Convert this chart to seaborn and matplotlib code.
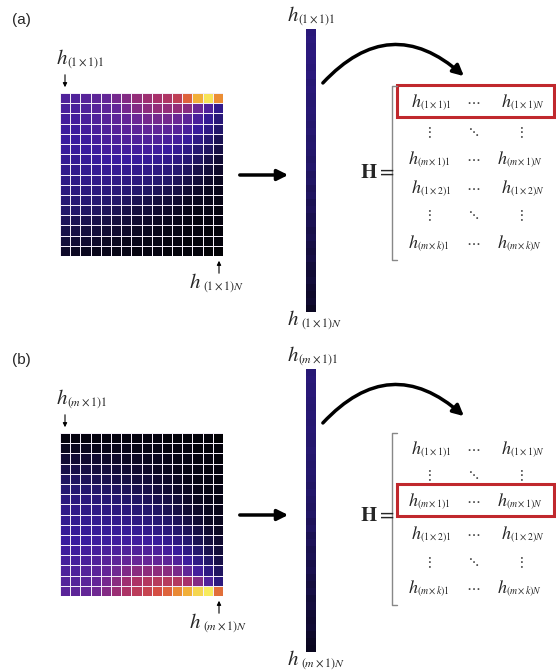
import numpy as np
import matplotlib.pyplot as plt
from matplotlib.colors import LinearSegmentedColormap
from matplotlib.patches import Rectangle
import seaborn as sns

# field shown in panel (a), 16 x 16 cells, values 0-100
field_a = [
    [42, 42, 44, 46, 48, 52, 55, 58, 60, 62, 64, 68, 78, 90, 98, 85],
    [40, 40, 42, 44, 46, 48, 52, 55, 57, 58, 58, 58, 56, 50, 42, 30],
    [38, 38, 40, 42, 44, 46, 48, 50, 52, 52, 52, 50, 46, 40, 32, 24],
    [36, 36, 38, 40, 42, 44, 45, 46, 47, 47, 46, 44, 40, 34, 28, 20],
    [35, 35, 36, 38, 40, 41, 42, 42, 42, 42, 40, 38, 34, 28, 22, 16],
    [34, 34, 35, 36, 38, 38, 38, 38, 38, 37, 35, 32, 28, 22, 18, 13],
    [32, 32, 33, 34, 35, 35, 35, 34, 33, 32, 30, 27, 23, 18, 14, 10],
    [30, 30, 31, 32, 32, 32, 31, 30, 29, 27, 25, 22, 18, 14, 11, 8],
    [28, 28, 29, 29, 29, 28, 27, 26, 24, 22, 20, 17, 14, 11, 8, 6],
    [26, 26, 26, 26, 25, 24, 23, 21, 19, 17, 15, 13, 10, 8, 6, 5],
    [23, 23, 23, 22, 21, 20, 18, 16, 14, 12, 11, 9, 7, 6, 5, 4],
    [20, 20, 19, 18, 17, 16, 14, 12, 11, 9, 8, 7, 5, 4, 4, 3],
    [17, 16, 15, 14, 13, 12, 11, 9, 8, 7, 6, 5, 4, 3, 3, 3],
    [14, 13, 12, 11, 10, 9, 8, 7, 6, 5, 4, 4, 3, 3, 2, 2],
    [11, 10, 9, 8, 7, 6, 5, 5, 4, 4, 3, 3, 2, 2, 2, 2],
    [8, 7, 6, 5, 5, 4, 4, 3, 3, 3, 2, 2, 2, 2, 1, 1],
]

# field shown in panel (b)
field_b = [
    [3, 3, 3, 3, 3, 3, 3, 3, 3, 3, 2, 2, 2, 2, 2, 1],
    [6, 6, 6, 5, 5, 5, 5, 4, 4, 4, 3, 3, 3, 2, 2, 2],
    [10, 10, 9, 9, 8, 8, 7, 7, 6, 6, 5, 4, 4, 3, 3, 2],
    [14, 14, 13, 12, 12, 11, 10, 9, 8, 7, 6, 5, 4, 4, 3, 3],
    [18, 18, 17, 16, 15, 14, 13, 12, 11, 9, 8, 7, 5, 4, 4, 3],
    [22, 22, 21, 20, 19, 18, 17, 15, 14, 12, 10, 8, 7, 5, 4, 4],
    [26, 26, 25, 24, 23, 22, 20, 19, 17, 15, 13, 11, 8, 6, 5, 4],
    [29, 29, 28, 28, 27, 26, 25, 23, 21, 19, 16, 13, 10, 8, 6, 5],
    [31, 31, 31, 31, 30, 30, 29, 27, 25, 23, 20, 17, 13, 10, 7, 6],
    [33, 33, 33, 33, 33, 33, 33, 32, 30, 28, 25, 21, 17, 13, 9, 7],
    [35, 35, 35, 36, 36, 37, 37, 37, 36, 34, 31, 27, 22, 16, 12, 9],
    [37, 37, 38, 39, 40, 41, 42, 42, 42, 41, 38, 34, 28, 21, 15, 11],
    [39, 39, 40, 42, 44, 46, 48, 49, 49, 48, 46, 42, 36, 28, 20, 14],
    [41, 41, 43, 45, 48, 51, 54, 56, 57, 57, 56, 53, 47, 38, 27, 18],
    [43, 43, 45, 48, 52, 56, 60, 63, 65, 66, 66, 65, 62, 55, 42, 26],
    [45, 46, 48, 51, 55, 59, 63, 67, 70, 74, 78, 84, 90, 96, 99, 80],
]

# flattened column vectors (stripes)
vector_a = [24, 25, 24, 26, 25, 24, 25, 23, 24, 23, 22, 23, 22, 21, 22, 20,
            21, 20, 19, 20, 18, 19, 17, 18, 16, 17, 15, 16, 14, 15, 13, 12,
            13, 11, 10, 11, 9, 8, 9, 7]
vector_b = [23, 24, 23, 24, 23, 22, 23, 22, 23, 22, 21, 22, 21, 20, 21, 20,
            19, 20, 19, 18, 19, 17, 18, 16, 17, 15, 16, 14, 15, 13, 12, 13,
            11, 12, 10, 9, 10, 8, 7, 6]

# entries of matrix H: (subscript of first column, subscript of last column); None = dots row
matrix_rows = [
    (r"(1\times1)1", r"(1\times1)N"),
    None,
    (r"(m\times1)1", r"(m\times1)N"),
    (r"(1\times2)1", r"(1\times2)N"),
    None,
    (r"(m\times k)1", r"(m\times k)N"),
]

sns.set_style("white")
plt.rcParams["font.family"] = ["Liberation Sans", "DejaVu Sans"]
plt.rcParams["mathtext.fontset"] = "stix"

cmap = LinearSegmentedColormap.from_list(
    "field",
    [(0.0, "#000000"), (0.2, "#23176a"), (0.35, "#3a1c9e"), (0.5, "#6a2896"),
     (0.62, "#a8306a"), (0.75, "#d85040"), (0.88, "#f0a030"), (1.0, "#f8f060")])

W, H = 556, 671
fig = plt.figure(figsize=(W / 100, H / 100), dpi=100)


def px_axes(x0, y0, x1, y1):
    return fig.add_axes([x0 / W, 1 - y1 / H, (x1 - x0) / W, (y1 - y0) / H])


def hlabel(x, y, sub, fs, sfs, gap=0.0, drop=2):
    # italic h with a small subscript, x = left edge, y = baseline (pixels)
    ov.text(x, y, r"$h$", fontsize=fs, ha="left", va="baseline")
    ov.text(x + fs * 0.72 + gap, y + drop, "$%s$" % sub, fontsize=sfs,
            ha="left", va="baseline")


def draw_panel(dy, field, vector, label, sub, hl_row, rows_y, h_y):
    # grid of cells
    ax = px_axes(60, 93 + dy, 223, 256 + dy)
    sns.heatmap(np.array(field), ax=ax, cmap=cmap, vmin=0, vmax=100, cbar=False,
                linewidths=0.7, linecolor="#f4eef8", xticklabels=False, yticklabels=False)
    # column vector
    axv = px_axes(306, 29 + dy, 316, 312 + dy)
    sns.heatmap(np.array(vector).reshape(-1, 1), ax=axv, cmap=cmap, vmin=0, vmax=100,
                cbar=False, linewidths=0, xticklabels=False, yticklabels=False)

    ov.text(12, 24 + dy, label, fontsize=11, ha="left", va="baseline")
    hlabel(56, 64 + dy, sub + "1", 15, 8.5)
    hlabel(189, 288 + dy, sub + "N", 15, 8.5, gap=3)
    hlabel(287, 21 + dy, sub + "1", 15, 8.5)
    hlabel(287, 325 + dy, sub + "N", 15, 8.5, gap=3)

    arr = dict(arrowstyle="-|>", color="black", lw=0.8, mutation_scale=6)
    ov.annotate("", xy=(65, 90 + dy), xytext=(65, 72 + dy), arrowprops=arr)
    ov.annotate("", xy=(219, 258 + dy), xytext=(219, 276 + dy), arrowprops=arr)

    big = dict(arrowstyle="-|>", color="black", lw=2.5, mutation_scale=16)
    ov.annotate("", xy=(291, 175 + dy), xytext=(237, 175 + dy), arrowprops=big)
    ov.annotate("", xy=(466, 78 + dy), xytext=(321, 85 + dy),
                arrowprops=dict(big, connectionstyle="arc3,rad=-0.5"))

    # matrix H
    ov.text(377, h_y + 6, r"$\mathbf{H} =$", fontsize=15, ha="center", va="baseline")
    top, bot = rows_y[0] - 15, rows_y[-1] + 18
    ov.plot([397, 392, 392, 397], [top, top, bot, bot], color="#888888", lw=1)
    for yy, row in zip(rows_y, matrix_rows):
        if row is None:
            for xx, s in zip([428, 473, 520], [r"$\vdots$", r"$\ddots$", r"$\vdots$"]):
                ov.text(xx, yy + 6, s, fontsize=11, ha="center", va="baseline",
                        color="#444444")
        else:
            hlabel(411 if "1\\times" in row[0] else 408, yy + 6, row[0], 13, 7, drop=1)
            ov.text(473, yy + 4, r"$\cdots$", fontsize=11, ha="center", va="baseline",
                    color="#444444")
            hlabel(501 if "1\\times" in row[1] else 497, yy + 6, row[1], 13, 7, drop=1)
    ry = rows_y[hl_row]
    ov.add_patch(Rectangle((397, ry - 16), 157, 32, fill=False,
                           edgecolor="#c0282d", lw=2.2))


ov = fig.add_axes([0, 0, 1, 1])
ov.set_xlim(0, W)
ov.set_ylim(H, 0)
ov.axis("off")
ov.set_zorder(5)

draw_panel(0, field_a, vector_a, "(a)", r"(1\times1)", 0,
           [101, 130, 158, 187, 213, 242], 172)
draw_panel(340, field_b, vector_b, "(b)", r"(m\times1)", 2,
           [448, 473, 500, 533, 560, 587], 515)

fig.savefig("out.png", dpi=100)
